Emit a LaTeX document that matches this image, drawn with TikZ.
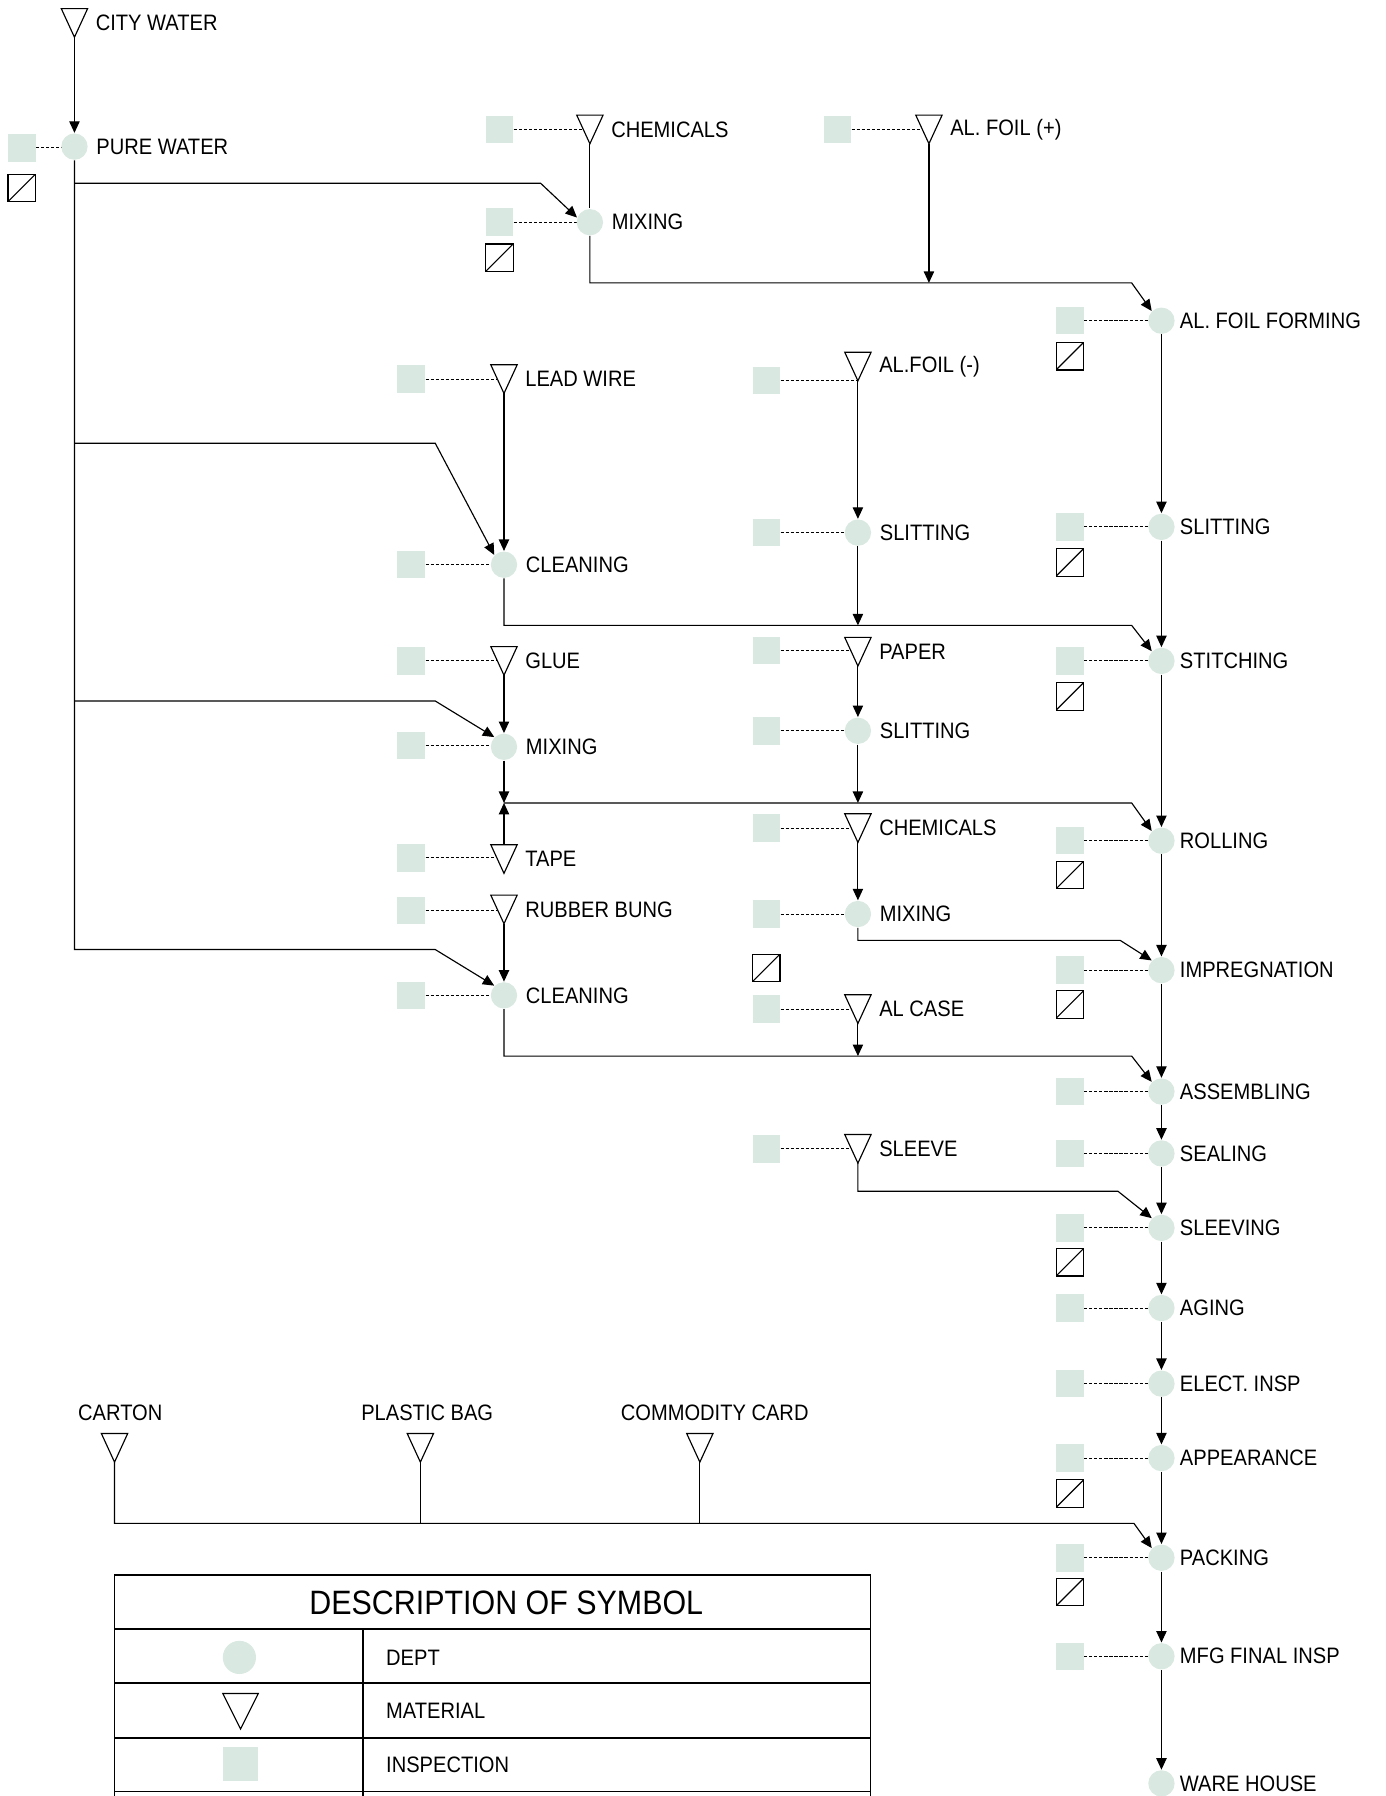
\documentclass[tikz,border=0pt]{standalone}
\usepackage{fontspec}
\setmainfont[FakeStretch=0.9]{Liberation Sans}
\usetikzlibrary{arrows.meta,positioning,backgrounds}
\definecolor{inspgreen}{HTML}{D9E8E0}

\tikzset{
  dept/.style={circle,fill=inspgreen,minimum size=11.5pt,inner sep=0pt},
  insp/.style={fill=inspgreen,minimum size=12pt,inner sep=0pt},
  chk/.style={draw,minimum size=12pt,inner sep=0pt,
    path picture={\draw (path picture bounding box.south west) -- (path picture bounding box.north east);}},
  matl/.style={minimum width=11pt,minimum height=12pt,inner sep=0pt},
  qline/.style={dash pattern=on 1.4pt off 0.8pt,line width=0.45pt},
  legline/.style={line width=0.8pt}
}
% material symbol: open triangle pointing down
\newcommand{\material}[3][]{%
  \node[matl,#1] (#2) at (#3) {};
  \draw[fill=white] (#2.north west) -- (#2.north east) -- (#2.south) -- cycle;
}

\begin{document}
\begin{tikzpicture}[x=0.5pt,y=-0.5pt,>={Triangle[length=5pt,width=4.5pt]},line width=0.5pt,
  font=\fontsize{9.75}{11}\selectfont]
\clip (0,0) rectangle (1210,1568);

% water supply
\material[label=right:CITY WATER]{cw}{65,20}
\node[dept,label=right:PURE WATER] (pw) at (65,128) {};

% materials
\material[label=right:CHEMICALS]{chem1}{515,113}
\material[label=right:AL. FOIL (+)]{foilpos}{811,113}
\material[label=right:LEAD WIRE]{lead}{440,331}
\material[label=right:AL.FOIL (-)]{foilneg}{749,320}
\material[label=right:GLUE]{glue}{440,577}
\material[label=right:PAPER]{paper}{749,569}
\material[label=right:CHEMICALS]{chem2}{749,723}
\material[label=right:TAPE]{tape}{440,750}
\material[label=right:RUBBER BUNG]{rubber}{440,794}
\material[label=right:AL CASE]{alcase}{749,881}
\material[label=right:SLEEVE]{sleeve}{749,1003}
\material[label={[xshift=2.5pt,label distance=2pt]above:CARTON}]{carton}{100,1264}
\material[label={[xshift=3pt,label distance=2pt]above:PLASTIC BAG}]{bag}{367,1264}
\material[label={[xshift=6.5pt,label distance=2pt]above:COMMODITY CARD}]{card}{611,1264}

% side departments
\node[dept,label=right:MIXING] (mix1) at (515,194) {};
\node[dept,label=right:CLEANING] (clean1) at (440,493) {};
\node[dept,label=right:SLITTING] (slit1) at (749,465) {};
\node[dept,label=right:MIXING] (mix2) at (440,652) {};
\node[dept,label=right:SLITTING] (slit2) at (749,638) {};
\node[dept,label=right:MIXING] (mix3) at (749,798) {};
\node[dept,label=right:CLEANING] (clean2) at (440,869) {};

% main line
\foreach \n/\y/\txt in {forming/280/AL. FOIL FORMING, slit3/460/SLITTING, stitch/577/STITCHING,
  roll/734/ROLLING, impreg/847/IMPREGNATION, assem/953/ASSEMBLING, seal/1007/SEALING,
  sleeving/1072/SLEEVING, aging/1142/AGING, elect/1208/ELECT. INSP, appear/1273/APPEARANCE,
  pack/1360/PACKING, final/1446/MFG FINAL INSP, ware/1557/WARE HOUSE}
  \node[dept,label={[label distance=-1.5pt]right:\txt}] (\n) at (1014,\y) {};

% inspection points
\foreach \n/\x/\y in {pw/19/129, chem1/436/113, mix1/436/194, foilpos/731/113, forming/934/280,
  lead/359/331, clean1/359/493, foilneg/669/332, slit1/669/465, slit3/934/460, glue/359/577,
  mix2/359/651, paper/669/568, slit2/669/638, stitch/934/577, tape/359/749, chem2/669/723,
  roll/934/734, mix3/669/798, rubber/359/795, clean2/359/869, impreg/934/847, alcase/669/881,
  assem/934/953, sleeve/669/1003, seal/934/1007, sleeving/934/1072, aging/934/1142,
  elect/934/1208, appear/934/1273, pack/934/1360, final/934/1446}
  \node[insp] (q\n) at (\x,\y) {};
\begin{scope}[on background layer]
\foreach \n in {pw,chem1,mix1,foilpos,forming,lead,clean1,foilneg,slit1,slit3,glue,mix2,paper,
  slit2,stitch,tape,chem2,roll,mix3,rubber,clean2,impreg,alcase,assem,sleeve,seal,sleeving,
  aging,elect,appear,pack,final}
  \draw[qline] (q\n) -- (q\n -| \n);
\end{scope}

% record boxes
\foreach \n/\x/\y in {pw/19/164, mix1/436/225, forming/934/311, slit3/934/491, stitch/934/608,
  roll/934/764, impreg/934/877, mix3/669/845, sleeving/934/1102, appear/934/1304, pack/934/1390}
  \node[chk] (c\n) at (\x,\y) {};

% junctions
\coordinate (j1) at (811,247);
\coordinate (j2) at (749,546);
\coordinate (j3) at (440,701);
\coordinate (j4) at (749,701);
\coordinate (j5) at (749,922);
\coordinate (j6) at (367,1330);
\coordinate (j7) at (611,1330);

% flow
\draw[->] (cw.south) -- (pw);
\draw[->] (pw) |- (380,829) -- (clean2.north west);
\draw[->] (65,160) -- (472,160) -- (mix1.160);
\draw[->] (65,387) -- (380,387) -- (clean1.north west);
\draw[->] (65,612) -- (380,612) -- (mix2.north west);
\draw (chem1.south) -- (mix1);
\draw[->] (mix1) |- (988,247) -- (forming.north west);
\draw[->] (foilpos.south) -- (j1);
\draw[->] (lead.south) -- (clean1);
\draw[->] (clean1) |- (988,546) -- (stitch.north west);
\draw[->] (foilneg.south) -- (slit1);
\draw[->] (slit1) -- (j2);
\draw[->] (glue.south) -- (mix2);
\draw[->] (mix2) -- (j3);
\draw[->] (tape.north) -- (j3);
\draw[->] (j3) -- (988,701) -- (roll.north west);
\draw[->] (paper.south) -- (slit2);
\draw[->] (slit2) -- (j4);
\draw[->] (chem2.south) -- (mix3);
\draw[->] (mix3) |- (978,821) -- (impreg.north west);
\draw[->] (rubber.south) -- (clean2);
\draw[->] (clean2) |- (988,922) -- (assem.north west);
\draw[->] (alcase.south) -- (j5);
\draw[->] (sleeve.south) |- (976,1040) -- (sleeving.north west);
\draw[->] (carton.south) |- (990,1330) -- (pack.north west);
\draw (bag.south) -- (j6);
\draw (card.south) -- (j7);
\foreach \a/\b in {forming/slit3, slit3/stitch, stitch/roll, roll/impreg, impreg/assem,
  assem/seal, seal/sleeving, sleeving/aging, aging/elect, elect/appear, appear/pack,
  pack/final, final/ware}
  \draw[->] (\a) -- (\b);

% legend
\draw[legline] (100,1375) rectangle (760,1620);
\foreach \y in {1422,1469,1517,1564} \draw[legline] (100,\y) -- (760,\y);
\draw[legline] (317,1422) -- (317,1620);
\node[font=\fontsize{14.75}{17}\selectfont] (legtitle) at (442,1399) {DESCRIPTION OF SYMBOL};
\node[dept,minimum size=14.5pt] (legdept) at (209,1447) {};
\material[minimum width=15pt,minimum height=15pt]{legmat}{210,1494}
\node[insp,minimum size=15pt] (leginsp) at (210,1540) {};
\node[anchor=west] (legt1) at (330,1447) {DEPT};
\node[anchor=west] (legt2) at (330,1494) {MATERIAL};
\node[anchor=west] (legt3) at (330,1541) {INSPECTION};
\end{tikzpicture}
\end{document}
